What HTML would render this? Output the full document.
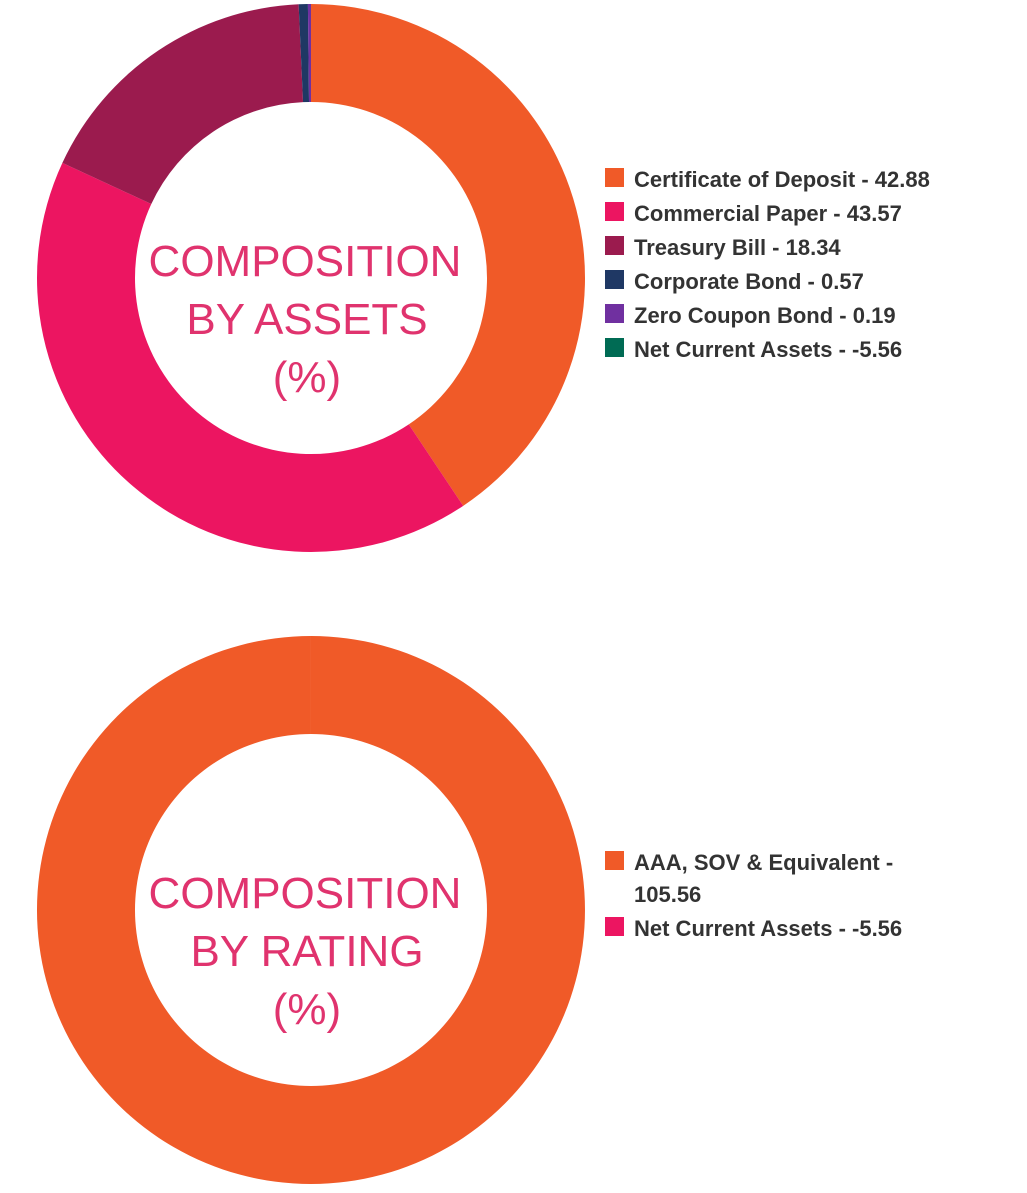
<!DOCTYPE html>
<html><head><meta charset="utf-8"><style>
html,body{margin:0;padding:0;background:#fff;}
svg{display:block;font-family:"Liberation Sans",sans-serif;}
</style></head><body>
<svg id="chart" width="1027" height="1193" viewBox="0 0 1027 1193">
<g id="g1"></g>
<g id="g2"></g>
<g fill="#e0336e" font-size="44" text-anchor="middle">
<text x="305" y="276">COMPOSITION</text>
<text x="307" y="334">BY ASSETS</text>
<text x="307" y="392">(%)</text>
</g>
<g fill="#e0336e" font-size="44" text-anchor="middle">
<text x="305" y="908">COMPOSITION</text>
<text x="307" y="966">BY RATING</text>
<text x="307" y="1024">(%)</text>
</g>
<g id="leg1"></g>
<g id="leg2"></g>
</svg>
<script>
const assetCats=["Certificate of Deposit","Commercial Paper","Treasury Bill","Corporate Bond","Zero Coupon Bond","Net Current Assets"];
const assetVals=[42.88,43.57,18.34,0.57,0.19,-5.56];
const assetColors=["#f05a28","#ec1561","#9b1b4e","#1f3864","#7030a0","#006b54"];
const ratingCats=["AAA, SOV & Equivalent","Net Current Assets"];
const ratingVals=[105.56,-5.56];
const ratingColors=["#f05a28","#ec1561"];
const NS="http://www.w3.org/2000/svg";
function pt(cx,cy,r,a){return [cx+r*Math.sin(a),cy-r*Math.cos(a)];}
function donut(g,vals,cols,cx,cy,R,r){
  const pos=vals.map(v=>Math.max(v,0));const tot=pos.reduce((a,b)=>a+b,0);
  let a0=0;
  pos.forEach((v,i)=>{
    if(v<=0)return;
    let sw=v/tot*2*Math.PI;
    if(sw>=2*Math.PI-1e-6)sw=2*Math.PI-1e-4;
    const a1=a0+sw;const lg=sw>Math.PI?1:0;
    const p1=pt(cx,cy,R,a0),p2=pt(cx,cy,R,a1),p3=pt(cx,cy,r,a1),p4=pt(cx,cy,r,a0);
    const p=document.createElementNS(NS,"path");
    p.setAttribute("d",`M${p1}A${R},${R} 0 ${lg} 1 ${p2}L${p3}A${r},${r} 0 ${lg} 0 ${p4}Z`);
    p.setAttribute("fill",cols[i]);
    
    
    g.appendChild(p);
    a0=a1;
  });
}
donut(document.getElementById("g1"),assetVals,assetColors,311,278,274,176);
donut(document.getElementById("g2"),ratingVals,ratingColors,311,910,274,176);
function legend(g,lines,cols,y0,step){
  let y=y0;
  lines.forEach((ls,i)=>{
    const s=document.createElementNS(NS,"rect");
    s.setAttribute("x",605);s.setAttribute("y",y-19);s.setAttribute("width",19);s.setAttribute("height",19);
    s.setAttribute("fill",cols[i]);
    
    
    g.appendChild(s);
    ls.forEach(l=>{
      const t=document.createElementNS(NS,"text");
      t.setAttribute("x",634);t.setAttribute("y",y);
      t.setAttribute("font-size","22");t.setAttribute("font-weight","bold");t.setAttribute("fill","#333");
      t.textContent=l;
      
      
      g.appendChild(t);
      y+=step-2;
    });
    y+=2;
  });
}
legend(document.getElementById("leg1"),assetCats.map((c,i)=>[c+" - "+assetVals[i]]),assetColors,187,34);
legend(document.getElementById("leg2"),[[ratingCats[0]+" -",String(ratingVals[0])],[ratingCats[1]+" - "+ratingVals[1]]],ratingColors,870,34);
</script>
</body></html>
